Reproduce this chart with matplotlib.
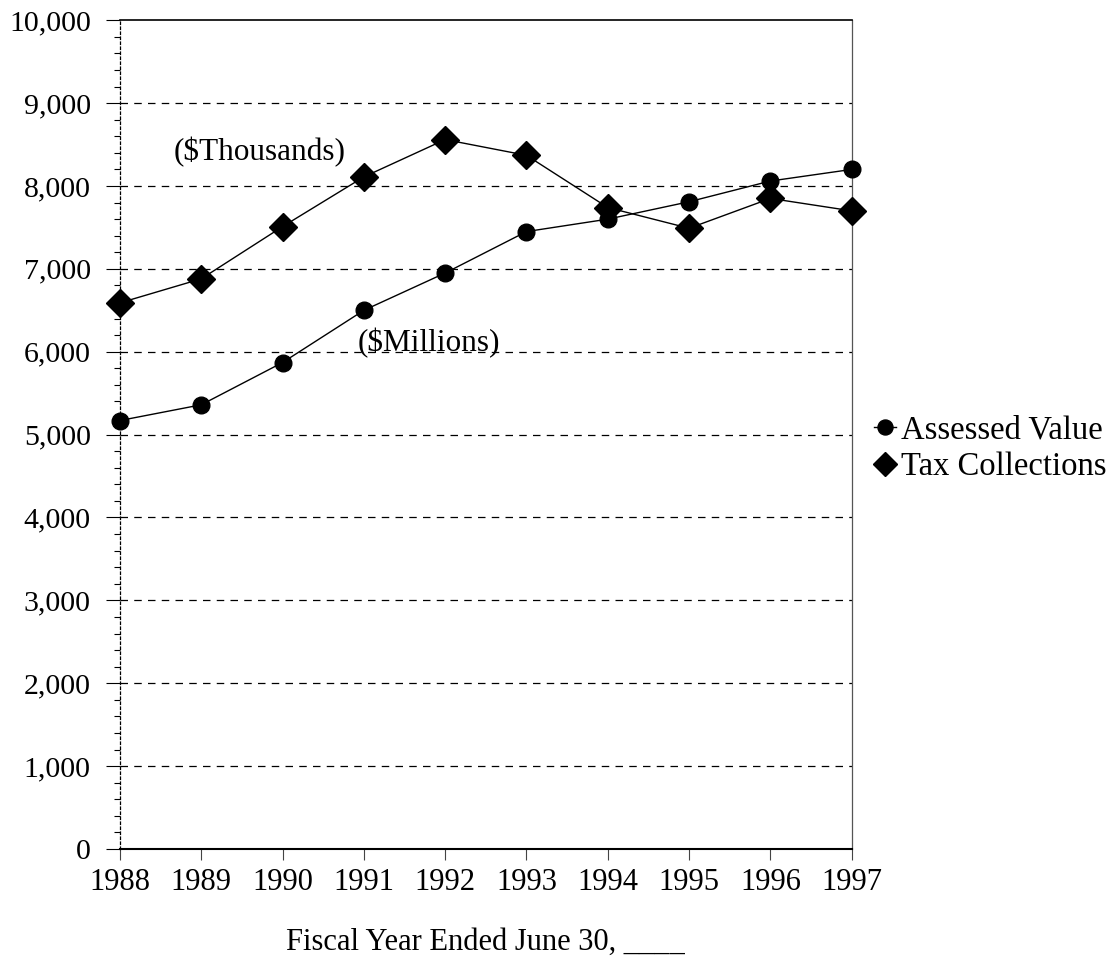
import matplotlib.pyplot as plt
from matplotlib.ticker import MultipleLocator, FuncFormatter

plt.rcParams["font.family"] = ["Liberation Serif", "DejaVu Serif"]

years = [1988, 1989, 1990, 1991, 1992, 1993, 1994, 1995, 1996, 1997]
assessed_value = [5170, 5360, 5870, 6500, 6950, 7450, 7600, 7810, 8060, 8200]
tax_collections = [6590, 6880, 7510, 8110, 8560, 8370, 7740, 7490, 7850, 7700]

fig = plt.figure(figsize=(11.18, 9.64), dpi=100)
ax = fig.add_axes([0.1073, 0.1193, 0.6545, 0.8597])

ax.plot(years, assessed_value, color="black", lw=1, marker="o", ms=12,
        label="Assessed Value", clip_on=False, zorder=3)
ax.plot(years, tax_collections, color="black", lw=1, marker="D", ms=14,
        label="Tax Collections", clip_on=False, zorder=3)

ax.set_xlim(1988, 1997)
ax.set_ylim(0, 10000)
ax.set_xticks(years)
ax.yaxis.set_major_locator(MultipleLocator(1000))
ax.yaxis.set_minor_locator(MultipleLocator(200))
ax.yaxis.set_major_formatter(FuncFormatter(lambda v, p: f"{int(v):,}"))

# dashed gridlines at each thousand
for y in range(1000, 10000, 1000):
    ax.axhline(y, color="black", lw=0.9, ls=(0, (6, 5)), zorder=1)

ax.spines["top"].set_linewidth(1.2)
ax.spines["bottom"].set_linewidth(1.5)
ax.spines["left"].set_linestyle((0, (2, 2)))
ax.spines["left"].set_linewidth(0.9)
ax.spines["right"].set_linestyle((0, (2, 1)))
ax.spines["right"].set_linewidth(0.9)
ax.spines["right"].set_color("#555555")

ax.tick_params(axis="y", which="major", direction="out", length=10, width=0.8,
               labelsize=21.5, pad=11)
ax.tick_params(axis="y", which="minor", direction="out", length=4, width=0.8)
ax.tick_params(axis="x", which="major", direction="out", length=8, width=0.8,
               labelsize=22, pad=6, color="#444444")

ax.annotate("($Thousands)", xy=(1989.72, 8410), ha="center", va="center", fontsize=22.5)
ax.annotate("($Millions)", xy=(1991.8, 6110), ha="center", va="center", fontsize=22.5)

ax.set_xlabel("Fiscal Year Ended June 30, ____", fontsize=22, labelpad=22)

ax.legend(loc="center left", bbox_to_anchor=(1.03, 0.483), frameon=False,
          fontsize=23.5, handlelength=0.7, handletextpad=0.15, labelspacing=0.2,
          borderaxespad=0, borderpad=0, markerscale=0.9)

fig.savefig("out.png", dpi=100)
